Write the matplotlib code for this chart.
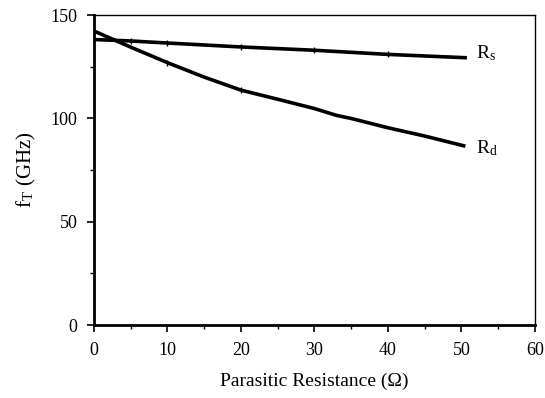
import matplotlib.pyplot as plt
from matplotlib.ticker import MultipleLocator

# ==== data ====
rs_x = [0, 5, 10, 20, 30, 40, 50.5]
rs_fT = [138.2, 137.5, 136.5, 134.6, 133, 131, 129.4]

rd_x = [0, 5, 10, 15, 20, 25, 30, 33, 35, 40, 45, 50.3]
rd_fT = [142.3, 134.5, 127, 120, 113.7, 109.3, 104.8, 101.5, 100, 95.5, 91.5, 86.8]

plt.rcParams['font.family'] = ['Liberation Serif', 'DejaVu Serif']
plt.rcParams['mathtext.fontset'] = 'stix'

fig = plt.figure(figsize=(5.45, 3.98), dpi=100)
ax = fig.add_axes([0.1725, 0.183, 0.809, 0.779])

ax.plot(rs_x, rs_fT, color='black', linewidth=2.6, marker='|', markersize=5,
        markevery=[1, 2, 3, 4, 5])
ax.plot(rd_x, rd_fT, color='black', linewidth=2.6, marker='|', markersize=5,
        markevery=[2, 4])

ax.text(52, 131.5, r'R$_\mathregular{s}$', fontsize=14, va='center', ha='left')
ax.text(52, 85.5, r'R$_\mathregular{d}$', fontsize=14, va='center', ha='left')

ax.set_xlim(0, 60)
ax.set_ylim(0, 150)
ax.xaxis.set_major_locator(MultipleLocator(10))
ax.xaxis.set_minor_locator(MultipleLocator(5))
ax.yaxis.set_major_locator(MultipleLocator(50))
ax.yaxis.set_minor_locator(MultipleLocator(25))
ax.tick_params(which='major', direction='out', length=5, width=1.2, labelsize=13, pad=7)
ax.tick_params(which='minor', direction='out', length=3, width=1.0)

ax.spines['left'].set_linewidth(2)
ax.spines['bottom'].set_linewidth(2)
ax.spines['top'].set_linewidth(1)
ax.spines['right'].set_linewidth(1)

ax.set_xlabel('Parasitic Resistance (\u03a9)', fontsize=14, labelpad=10)
ax.set_ylabel(r'f$_\mathregular{T}$ (GHz)', fontsize=15, labelpad=9)

fig.savefig('out.png', dpi=100)
